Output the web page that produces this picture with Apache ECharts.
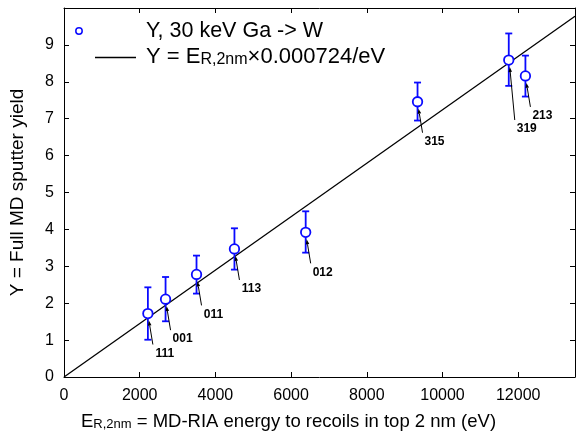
<!DOCTYPE html>
<html>
<head>
<meta charset="utf-8">
<script src="https://cdn.jsdelivr.net/npm/echarts@6/dist/echarts.min.js"></script>
<style>
  html, body { margin: 0; padding: 0; background: #fff; }
  #chart { width: 576px; height: 436px; }
</style>
</head>
<body>
<div id="chart"></div>
<script>
// Sputter yield of W under 30 keV Ga, per surface orientation
const facets    = ['111', '001', '011', '113', '012', '315', '319', '213'];
const energies  = [2216, 2683, 3501, 4503, 6385, 9340, 11750, 12190];   // E_R,2nm (eV)
const yields    = [1.72, 2.11, 2.78, 3.47, 3.92, 7.46, 8.59, 8.16];
const yieldLow  = [1.01, 1.51, 2.26, 2.91, 3.37, 6.95, 7.89, 7.60];
const yieldHigh = [2.43, 2.71, 3.29, 4.03, 4.49, 7.98, 9.31, 8.71];
const slope = 0.000724;   // fitted yield per eV
const xMax = 13500;

// pixel offsets of each facet label from its point (label centre)
const labelOffsets = [[17, 40], [17, 40], [17, 40], [17, 40], [17, 40], [17, 40], [18, 69], [17, 40]];

const BLUE = '#0a0aff';
const FONT = '"Liberation Sans", Arial, Helvetica, sans-serif';

const chart = echarts.init(document.getElementById('chart'), null, { renderer: 'canvas' });

const frameAxis = {
  axisLine: { show: true, onZero: false, lineStyle: { color: '#000', width: 1 } },
  axisTick: { show: true, inside: true, length: 5, lineStyle: { color: '#000', width: 1 } },
  splitLine: { show: false }
};

const option = {
  backgroundColor: '#fff',
  animation: false,
  grid: { left: 64, right: 1, top: 8, bottom: 58, containLabel: false },
  xAxis: [
    Object.assign({
      type: 'value', min: 0, max: xMax, interval: 2000, position: 'bottom',
      name: '{e|E}{s|R,2nm}{e| = MD-RIA energy to recoils in top 2 nm (eV)}',
      nameLocation: 'middle', nameGap: 35,
      nameTextStyle: {
        padding: [0, 62, 0, 0],
        rich: {
          e: { fontFamily: FONT, fontSize: 18.5, color: '#000' },
          s: { fontFamily: FONT, fontSize: 13, color: '#000', verticalAlign: 'bottom' }
        }
      },
      axisLabel: { fontFamily: FONT, fontSize: 16, color: '#000', margin: 11, showMaxLabel: false,
                   formatter: v => String(v) }
    }, frameAxis),
    Object.assign({
      type: 'value', min: 0, max: xMax, interval: 2000, position: 'top',
      axisLabel: { show: false }
    }, frameAxis)
  ],
  yAxis: [
    Object.assign({
      type: 'value', min: 0, max: 10, interval: 1, position: 'left',
      name: 'Y = Full MD sputter yield',
      nameLocation: 'middle', nameGap: 37, nameRotate: 90,
      nameTextStyle: { fontFamily: FONT, fontSize: 19, color: '#000' },
      axisLabel: { fontFamily: FONT, fontSize: 16, color: '#000', margin: 10, showMaxLabel: false }
    }, frameAxis),
    Object.assign({
      type: 'value', min: 0, max: 10, interval: 1, position: 'right',
      axisLabel: { show: false }
    }, frameAxis)
  ],
  series: [
    {
      // linear fit Y = E_R,2nm * slope
      type: 'line',
      data: [[0, 0], [xMax, xMax * slope]],
      symbol: 'none',
      lineStyle: { color: '#000', width: 1.3 },
      z: 2
    },
    {
      // error bars
      type: 'custom',
      data: energies.map((e, i) => [e, yieldLow[i], yieldHigh[i]]),
      renderItem: function (params, api) {
        const lo = api.coord([api.value(0), api.value(1)]);
        const hi = api.coord([api.value(0), api.value(2)]);
        const cap = 3.5;
        const st = { stroke: BLUE, lineWidth: 1.8 };
        return {
          type: 'group',
          children: [
            { type: 'line', shape: { x1: lo[0], y1: lo[1], x2: hi[0], y2: hi[1] }, style: st },
            { type: 'line', shape: { x1: lo[0] - cap, y1: lo[1], x2: lo[0] + cap, y2: lo[1] }, style: st },
            { type: 'line', shape: { x1: hi[0] - cap, y1: hi[1], x2: hi[0] + cap, y2: hi[1] }, style: st }
          ]
        };
      },
      z: 3
    },
    {
      type: 'scatter',
      data: energies.map((e, i) => [e, yields[i]]),
      symbol: 'circle',
      symbolSize: 9.5,
      itemStyle: { color: '#fff', borderColor: BLUE, borderWidth: 1.8, opacity: 1 },
      emphasis: { disabled: true },
      z: 4
    },
    {
      // facet labels with arrows pointing to their points
      type: 'custom',
      data: energies.map((e, i) => [e, yields[i], i]),
      renderItem: function (params, api) {
        const p = api.coord([api.value(0), api.value(1)]);
        const idx = api.value(2);
        const off = labelOffsets[idx];
        const lx = p[0] + off[0], ly = p[1] + off[1];
        const tail = [lx - 12, ly - 9];
        const tip = [p[0] + 1, p[1] + 7];
        const dx = tip[0] - tail[0], dy = tip[1] - tail[1];
        const len = Math.sqrt(dx * dx + dy * dy);
        const ux = dx / len, uy = dy / len;
        const hl = 5, hw = 1.8;
        const bx = tip[0] - ux * hl, by = tip[1] - uy * hl;
        return {
          type: 'group',
          children: [
            { type: 'line', shape: { x1: tail[0], y1: tail[1], x2: bx, y2: by },
              style: { stroke: '#000', lineWidth: 1 } },
            { type: 'polygon', shape: { points: [tip, [bx - uy * hw, by + ux * hw], [bx + uy * hw, by - ux * hw]] },
              style: { fill: '#000' } },
            { type: 'text', x: lx, y: ly,
              style: { text: facets[idx], align: 'center', verticalAlign: 'middle',
                       fontFamily: FONT, fontSize: 12, fontWeight: 'bold', fill: '#000' } }
          ]
        };
      },
      z: 5
    }
  ],
  graphic: [
    { type: 'circle', shape: { cx: 79, cy: 31, r: 3.2 }, style: { fill: 'none', stroke: BLUE, lineWidth: 1.5 } },
    { type: 'text', x: 146, y: 31,
      style: { text: 'Y, 30 keV Ga -> W', fontFamily: FONT, fontSize: 21.5, fill: '#000', verticalAlign: 'middle' } },
    { type: 'line', shape: { x1: 95, y1: 57.5, x2: 136, y2: 57.5 }, style: { stroke: '#000', lineWidth: 1.3 } },
    { type: 'text', x: 146, y: 57,
      style: {
        text: '{e|Y = E}{s|R,2nm}{e|×0.000724/eV}',
        verticalAlign: 'middle',
        rich: {
          e: { fontFamily: FONT, fontSize: 22, fill: '#000' },
          s: { fontFamily: FONT, fontSize: 16, fill: '#000', verticalAlign: 'bottom' }
        }
      } }
  ]
};

chart.setOption(option);
</script>
</body>
</html>
